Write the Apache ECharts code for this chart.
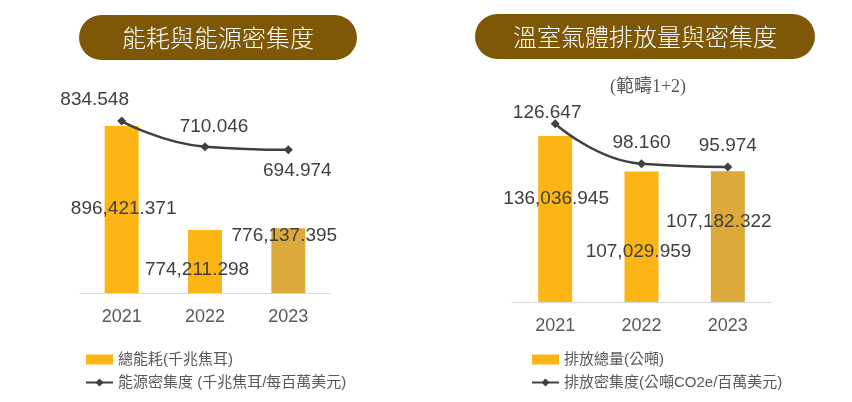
<!DOCTYPE html>
<html>
<head>
<meta charset="utf-8">
<script src="https://cdn.jsdelivr.net/npm/echarts@6/dist/echarts.min.js"></script>
<style>
  html, body { margin: 0; padding: 0; background: #fff; }
  #main { width: 852px; height: 402px; }
</style>
</head>
<body>
<div id="main"></div>
<script>
const years = ["2021", "2022", "2023"];
const energyTotal = [896421.371, 774211.298, 776137.395];
const energyIntensity = [834.548, 710.046, 694.974];
const ghgTotal = [136036.945, 107029.959, 107182.322];
const ghgIntensity = [126.647, 98.160, 95.974];

// hand placed label nudges [dx, dy], like in the original deck
const energyBarNudge = [[2, -1], [-8, 8], [-4, -25]];
const energyLineNudge = [[-27, -21], [9, -20], [9, 21]];
const ghgBarNudge = [[1, -20], [-3, 15], [-9, -15]];
const ghgLineNudge = [[-8, -11], [0, -21], [0, -21]];

const FONT = "'Liberation Sans', 'Noto Sans CJK TC', sans-serif";
const BAR = "#FDB415";
const BAR_LAST = "#DDA93A";
const DARK = "#404040";

const fmt = (v) => v.toLocaleString("en-US", { minimumFractionDigits: 3, maximumFractionDigits: 3 });

const barData = (vals, nudge) =>
  vals.map((v, i) => ({
    value: v,
    itemStyle: i === vals.length - 1 ? { color: BAR_LAST } : undefined,
    label: { offset: nudge[i] },
  }));
const lineData = (vals, nudge) => vals.map((v, i) => ({ value: v, label: { offset: nudge[i] } }));

const xAxisBase = (gridIndex) => ({
  type: "category",
  gridIndex: gridIndex,
  data: years,
  axisTick: { show: false },
  axisLine: { lineStyle: { color: "#D9D9D9", width: 1 } },
  axisLabel: { color: "#595959", fontSize: 18, margin: 15, fontFamily: FONT },
});

const barSeries = (name, xi, yi, vals, nudge) => ({
  name: name,
  type: "bar",
  xAxisIndex: xi,
  yAxisIndex: yi,
  barWidth: 34,
  itemStyle: { color: BAR },
  label: {
    show: true,
    position: "inside",
    color: DARK,
    fontSize: 19,
    fontFamily: FONT,
    formatter: (p) => fmt(p.value),
  },
  data: barData(vals, nudge),
});

const lineSeries = (name, xi, yi, vals, nudge) => ({
  name: name,
  type: "line",
  xAxisIndex: xi,
  yAxisIndex: yi,
  smooth: true,
  clip: false,
  z: 5,
  symbol: "diamond",
  symbolSize: 9,
  lineStyle: { color: DARK, width: 2.5 },
  itemStyle: { color: DARK },
  label: {
    show: true,
    position: "inside",
    color: DARK,
    fontSize: 19,
    fontFamily: FONT,
    formatter: (p) => fmt(p.value),
  },
  data: lineData(vals, nudge),
});

const legendBase = (left, barName, lineName) => ({
  data: [{ name: barName, icon: "rect" }, { name: lineName }],
  orient: "vertical",
  left: left,
  top: 347,
  itemWidth: 27,
  itemHeight: 10,
  itemGap: 8,
  selectedMode: false,
  textStyle: { color: "#595959", fontSize: 15, fontFamily: FONT },
});

const pill = (x, y, w, h, text) => [
  { type: "rect", shape: { x: x, y: y, width: w, height: h, r: h / 2 }, style: { fill: "#7F5807" } },
  {
    type: "text",
    x: x + w / 2,
    y: y + h / 2,
    style: {
      text: text,
      fill: "#fff",
      font: "300 24px 'Noto Sans CJK TC'",
      align: "center",
      verticalAlign: "middle",
    },
  },
];

const chart = echarts.init(document.getElementById("main"));
chart.setOption({
  backgroundColor: "#fff",
  animation: false,
  textStyle: { fontFamily: FONT },
  graphic: [
    ...pill(79, 15, 278, 45, "能耗與能源密集度"),
    ...pill(475, 14, 340, 45, "溫室氣體排放量與密集度"),
    {
      type: "text",
      x: 648,
      y: 87,
      style: {
        text: "(範疇1+2)",
        fill: "#595959",
        font: "18px 'Liberation Serif', 'Noto Sans CJK TC'",
        align: "center",
        verticalAlign: "middle",
      },
    },
  ],
  legend: [
    legendBase(80, "總能耗(千兆焦耳)", "能源密集度 (千兆焦耳/每百萬美元)"),
    legendBase(526, "排放總量(公噸)", "排放密集度(公噸CO2e/百萬美元)"),
  ],
  grid: [
    { left: 80, width: 250, top: 123, height: 170 },
    { left: 512, width: 259, top: 119, height: 183 },
  ],
  xAxis: [xAxisBase(0), xAxisBase(1)],
  yAxis: [
    { type: "value", gridIndex: 0, min: 700000, max: 900000, show: false },
    { type: "value", gridIndex: 0, min: 0, max: 825, show: false },
    { type: "value", gridIndex: 1, min: 0, max: 150000, show: false },
    { type: "value", gridIndex: 1, min: 0, max: 130, show: false },
  ],
  series: [
    barSeries("總能耗(千兆焦耳)", 0, 0, energyTotal, energyBarNudge),
    lineSeries("能源密集度 (千兆焦耳/每百萬美元)", 0, 1, energyIntensity, energyLineNudge),
    barSeries("排放總量(公噸)", 1, 2, ghgTotal, ghgBarNudge),
    lineSeries("排放密集度(公噸CO2e/百萬美元)", 1, 3, ghgIntensity, ghgLineNudge),
  ],
});
</script>
</body>
</html>
